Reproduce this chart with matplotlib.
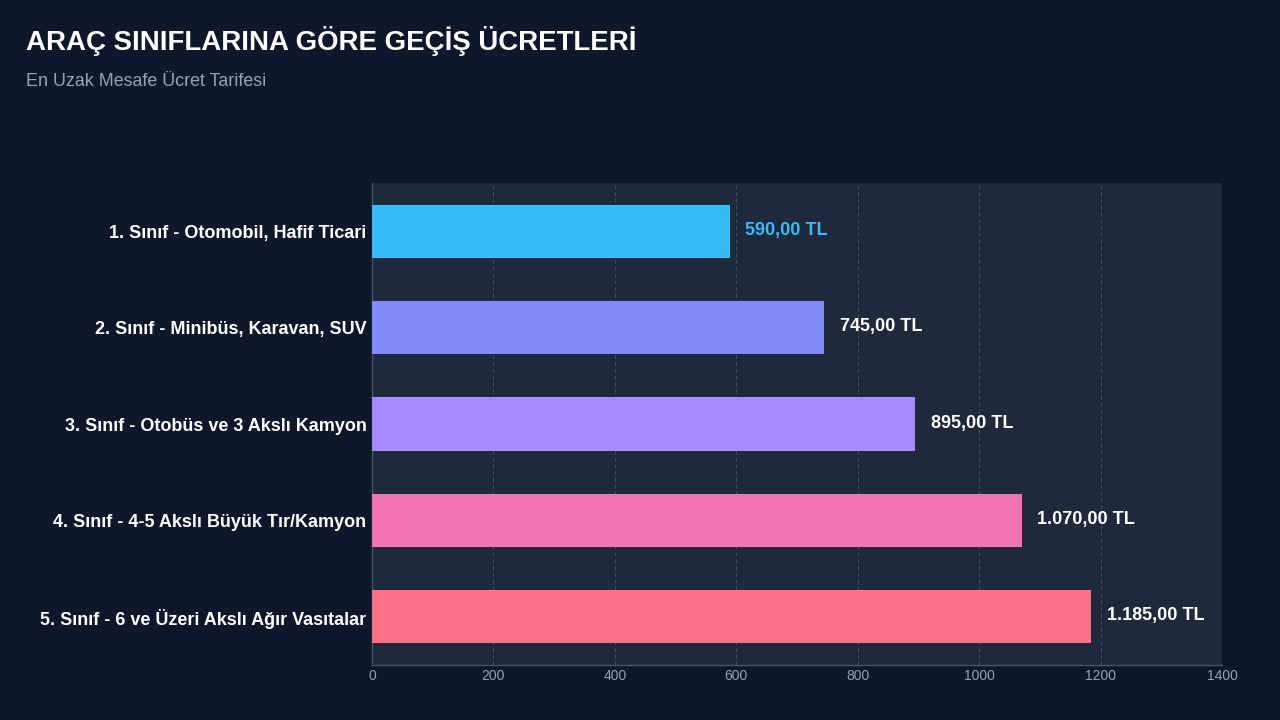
import matplotlib
matplotlib.use("Agg")
import matplotlib.pyplot as plt

plt.rcParams['font.family'] = ['Liberation Sans', 'DejaVu Sans']

categories = [
    "1. Sınıf - Otomobil, Hafif Ticari",
    "2. Sınıf - Minibüs, Karavan, SUV",
    "3. Sınıf - Otobüs ve 3 Akslı Kamyon",
    "4. Sınıf - 4-5 Akslı Büyük Tır/Kamyon",
    "5. Sınıf - 6 ve Üzeri Akslı Ağır Vasıtalar",
]
fees = [590, 745, 895, 1070, 1185]
fee_labels = ["590,00 TL", "745,00 TL", "895,00 TL", "1.070,00 TL", "1.185,00 TL"]
colors = ["#38bdf8", "#818cf8", "#a78bfa", "#f472b6", "#fb7185"]
xticks = [0, 200, 400, 600, 800, 1000, 1200, 1400]

bg = "#0f172a"
panel = "#1e293b"
grid_c = "#475569"

fig = plt.figure(figsize=(12.8, 7.2), dpi=100, facecolor=bg)
ax = fig.add_axes([372/1280, 1 - 665/720, 850/1280, 482/720])
ax.set_facecolor(panel)

y = list(range(len(categories)))
ax.barh(y, fees, height=0.55, color=colors, zorder=3)

for i, (v, lab) in enumerate(zip(fees, fee_labels)):
    c = colors[0] if i == 0 else "white"
    ax.text(v + 25, i - 0.01, lab, va="center", ha="left", fontsize=13, fontweight="bold", color=c, zorder=4)

ax.set_xlim(0, 1400)
ax.set_ylim(4.5, -0.5)
ax.set_xticks(xticks)
ax.set_xticklabels([str(t) for t in xticks], color="#94a3b8", fontsize=10)
ax.set_yticks(y)
ax.set_yticklabels(categories, color="white", fontsize=13, fontweight="bold")
ax.tick_params(axis="both", length=0)
ax.tick_params(axis="x", pad=3)
ax.tick_params(axis="y", pad=4)

ax.grid(axis="x", color=grid_c, linestyle=(0, (4, 3)), linewidth=0.7, alpha=0.85, zorder=0)
ax.grid(axis="y", visible=False)
for s in ["top", "right"]:
    ax.spines[s].set_visible(False)
for s in ["left", "bottom"]:
    ax.spines[s].set_color(grid_c)
    ax.spines[s].set_linewidth(1)

fig.text(26/1280, 1 - 41/720, "ARAÇ SINIFLARINA GÖRE GEÇİŞ ÜCRETLERİ", color="white",
         fontsize=19.9, fontweight="bold", va="center", ha="left")
fig.text(26/1280, 1 - 81/720, "En Uzak Mesafe Ücret Tarifesi", color="#94a3b8",
         fontsize=12.9, va="center", ha="left")

fig.savefig("out.png", dpi=100, facecolor=bg)
